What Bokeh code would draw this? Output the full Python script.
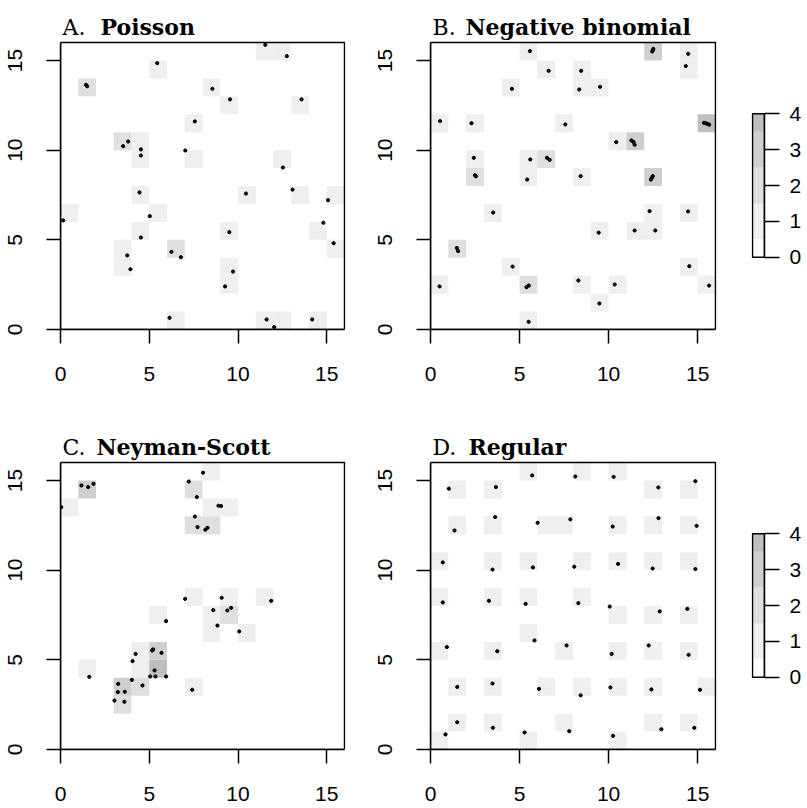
import numpy as np
from bokeh.plotting import figure
from bokeh.layouts import row, column
from bokeh.models import FixedTicker
from bokeh.core.properties import value
from bokeh.embed import file_html
from bokeh.resources import INLINE

# ---------------- data ----------------
A_x = [1.44, 1.50, 5.45, 7.57, 3.53, 3.81, 4.53, 4.53, 7.03, 4.45, 0.15, 5.03, 4.53, 3.76, 3.94, 6.25, 6.78, 6.14,
       11.54, 12.75, 8.56, 9.55, 13.58, 12.53, 10.45, 13.07, 15.07, 14.81, 15.39, 9.51, 9.72, 9.27, 11.61, 12.04, 14.18]
A_y = [13.64, 13.56, 14.85, 11.60, 10.22, 10.48, 10.04, 9.70, 9.98, 7.64, 6.08, 6.32, 5.13, 4.13, 3.36, 4.33, 4.03, 0.65,
       15.87, 15.24, 13.42, 12.83, 12.83, 9.03, 7.58, 7.80, 7.21, 5.95, 4.81, 5.43, 3.23, 2.40, 0.56, 0.13, 0.56]

B_x = [5.58, 6.63, 8.46, 8.35, 9.52, 4.57, 0.54, 2.30, 7.57, 2.43, 2.50, 2.55, 5.60, 5.43, 6.54, 6.69, 8.43, 3.52,
       9.44, 1.48, 1.55, 4.61, 0.51, 5.39, 5.52, 8.30, 9.48, 5.51,
       12.45, 12.48, 12.51, 14.47, 14.33, 15.35, 15.45, 15.55, 15.65, 10.43, 11.28, 11.40, 11.46, 12.37, 12.42, 12.48,
       12.30, 11.46, 12.62, 14.46, 14.53, 10.34, 15.64]
B_y = [15.52, 14.42, 14.42, 13.38, 13.53, 13.42, 11.62, 11.50, 11.43, 9.57, 8.60, 8.54, 9.48, 8.36, 9.57, 9.46, 8.55, 6.52,
       5.40, 4.55, 4.37, 3.51, 2.40, 2.36, 2.45, 2.73, 1.45, 0.43,
       15.50, 15.57, 15.64, 15.37, 14.69, 11.52, 11.50, 11.46, 11.42, 10.45, 10.54, 10.45, 10.30, 8.36, 8.45, 8.55,
       6.60, 5.52, 5.52, 6.58, 3.53, 2.51, 2.45]

C_x = [1.18, 1.56, 1.86, 0.04, 8.03, 7.23, 7.68, 8.90, 9.05, 7.57, 7.72, 8.16, 8.28, 7.02, 9.08, 11.87, 8.61, 9.40,
       9.61, 8.84, 10.07, 5.95, 4.23, 4.06, 4.02, 4.62, 3.25, 3.23, 3.62, 3.04, 3.60, 5.16, 5.22, 5.69, 5.30, 5.05,
       5.35, 5.95, 1.62, 7.42]
C_y = [14.72, 14.63, 14.81, 13.51, 15.43, 14.94, 14.07, 13.59, 13.57, 12.99, 12.40, 12.25, 12.36, 8.40, 8.46, 8.29, 7.77, 7.75,
       7.90, 6.91, 6.58, 7.16, 5.33, 4.93, 3.88, 3.57, 3.66, 3.20, 3.22, 2.73, 2.66, 5.52, 5.58, 5.39, 4.41, 4.07,
       4.07, 4.07, 4.05, 3.33]

D_x = [1.03, 3.67, 5.71, 8.13, 1.35, 3.63, 6.01, 7.85, 0.69, 3.48, 5.75, 8.07, 0.69, 3.28, 5.34, 8.30, 5.84, 7.64,
       0.92, 3.75, 1.50, 3.48, 6.09, 8.43, 1.50, 3.50, 0.84, 5.28, 7.79,
       10.28, 12.79, 14.87, 10.23, 12.80, 14.94, 10.53, 12.47, 14.87, 10.06, 12.87, 14.42, 12.25, 10.17, 14.49,
       10.10, 12.40, 15.13, 12.96, 14.81, 10.25]
D_y = [14.54, 14.63, 15.28, 15.22, 12.21, 12.96, 12.64, 12.83, 10.43, 10.03, 10.15, 10.19, 8.20, 8.29, 8.12, 8.16, 6.08, 5.80,
       5.71, 5.48, 3.49, 3.68, 3.38, 3.02, 1.52, 1.21, 0.84, 0.95, 1.02,
       15.20, 14.61, 14.96, 12.43, 12.90, 12.47, 10.35, 10.09, 10.06, 7.97, 7.70, 7.84, 5.80, 5.33, 5.28,
       3.46, 3.35, 3.33, 1.13, 1.21, 0.76]

title_letters = ["A.", "B.", "C.", "D."]
title_names = ["Poisson", "Negative binomial", "Neyman-Scott", "Regular"]
axis_ticks = [0, 5, 10, 15]
levels = [0, 1, 2, 3, 4]
level_colors = ["#FFFFFF", "#EFEFEF", "#DFDFDF", "#CFCFCF", "#BFBFBF"]

GRID_N = 16
TICK_FONT = "Liberation Sans"
TITLE_FONT = "DejaVu Serif"
FS = "21px"
TITLE_FS = "22px"
TOP_PAD = 42.0      # px between row top and panel box top
FRAME_H = 287       # px height of the 0..16 box
ROW_FH = int(TOP_PAD + FRAME_H)


def style_axis(ax, bounds):
    ax.bounds = bounds
    ax.minor_tick_line_color = None
    ax.major_tick_in = 0
    ax.major_tick_line_width = 1.5
    ax.axis_line_width = 1.5
    ax.major_label_text_font = TICK_FONT
    ax.major_label_text_font_size = FS
    ax.major_label_text_color = "black"


def panel(xs, ys, letter, name, left, fw, right, bottom, name_off):
    ppu_y = FRAME_H / GRID_N
    ppu_x = fw / GRID_N
    ytop = GRID_N + TOP_PAD / ppu_y
    xr = GRID_N + 1.0 / ppu_x
    p = figure(x_range=(0, xr), y_range=(0, ytop), frame_width=fw + 1, frame_height=ROW_FH,
               min_border_left=left, min_border_right=right, min_border_top=0, min_border_bottom=bottom,
               output_backend="svg", toolbar_location=None)
    p.grid.visible = False
    p.outline_line_color = None
    p.background_fill_color = "white"
    p.border_fill_color = "white"

    counts, xe, ye = np.histogram2d(np.array(xs), np.array(ys), bins=[GRID_N, GRID_N],
                                    range=[[0, GRID_N], [0, GRID_N]])
    ii, jj = np.nonzero(counts)
    cols = [level_colors[int(min(counts[i, j], 4))] for i, j in zip(ii, jj)]
    p.quad(left=xe[ii], right=xe[ii + 1], bottom=ye[jj], top=ye[jj + 1], fill_color=cols, line_color=None)
    p.scatter(xs, ys, size=3.2, color="black")
    # panel box
    p.quad(left=[0], right=[GRID_N], bottom=[0], top=[GRID_N], fill_color=None,
           line_color="black", line_width=1.5)

    style_axis(p.xaxis[0], (0, GRID_N))
    style_axis(p.yaxis[0], (0, GRID_N))
    p.xaxis.ticker = FixedTicker(ticks=axis_ticks)
    p.yaxis.ticker = FixedTicker(ticks=axis_ticks)
    p.xaxis.major_tick_out = 14
    p.yaxis.major_tick_out = 14
    p.xaxis.major_label_standoff = 23
    p.yaxis.major_label_standoff = 25
    p.yaxis.major_label_orientation = "vertical"

    ty = GRID_N + 15.3 / ppu_y
    p.text(x=[0], y=[ty], text=[letter], x_offset=2, text_font=value(TITLE_FONT), text_font_size=TITLE_FS,
           text_baseline="alphabetic", text_align="left", text_color="black")
    p.text(x=[0], y=[ty], text=[name], x_offset=name_off, text_font=value(TITLE_FONT), text_font_size=TITLE_FS,
           text_font_style="bold", text_baseline="alphabetic", text_align="left", text_color="black")
    return p


def colorbar(bottom):
    bar_top_px = 113.3   # from row top
    bar_bot_px = 256.7
    ppu = (bar_bot_px - bar_top_px) / (levels[-1] - levels[0])
    y_hi = levels[-1] + bar_top_px / ppu
    y_lo = levels[0] - (ROW_FH - bar_bot_px) / ppu
    p = figure(x_range=(-1.0 / 12, 1), y_range=(y_lo, y_hi), frame_width=13, frame_height=ROW_FH,
               min_border_left=11, min_border_right=43, min_border_top=0, min_border_bottom=bottom,
               x_axis_location=None, y_axis_location="right",
               output_backend="svg", toolbar_location=None)
    p.grid.visible = False
    p.outline_line_color = None
    lo = [max(levels[0], l - 0.5) for l in levels]
    hi = [min(levels[-1], l + 0.5) for l in levels]
    p.quad(left=0, right=1, bottom=lo, top=hi, fill_color=level_colors, line_color=None)
    p.quad(left=[0], right=[1], bottom=[levels[0]], top=[levels[-1]], fill_color=None,
           line_color="black", line_width=1.5)
    ax = p.yaxis[0]
    style_axis(ax, (levels[0], levels[-1]))
    ax.ticker = FixedTicker(ticks=levels)
    ax.major_tick_out = 15
    ax.major_label_standoff = 10
    return p


pA = panel(A_x, A_y, title_letters[0], title_names[0], 60, 284, 27, 91, 40)
pB = panel(B_x, B_y, title_letters[1], title_names[1], 58, 285, 24, 91, 35)
cb1 = colorbar(91)
pC = panel(C_x, C_y, title_letters[2], title_names[2], 60, 284, 27, 59, 36)
pD = panel(D_x, D_y, title_letters[3], title_names[3], 58, 285, 24, 59, 38)
cb2 = colorbar(59)

layout = column(row(pA, pB, cb1, spacing=0), row(pC, pD, cb2, spacing=0), spacing=0)
open("out.html", "w").write(file_html(layout, INLINE))
